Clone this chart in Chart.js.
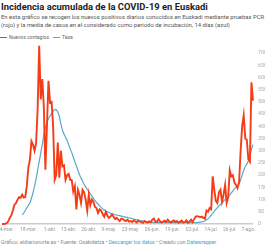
<!DOCTYPE html>
<html>
<head>
<meta charset="utf-8">
<script src="https://cdn.jsdelivr.net/npm/chart.js@4"></script>
<style>
  html, body { margin: 0; padding: 0; background: #fff; overflow: hidden; }
  body { width: 265px; height: 250px; position: relative; font-family: Roboto, "Noto Sans", sans-serif; }
  #title { position: absolute; left: 1px; top: 1px; font-size: 9.4px; font-weight: 700; color: #222; white-space: nowrap; line-height: 12px; }
  #desc { position: absolute; left: 1px; top: 13px; font-size: 5.9px; color: #555; white-space: nowrap; line-height: 8.3px; }
  #legend { position: absolute; left: 0; top: 34px; font-size: 5px; color: #666; white-space: nowrap; line-height: 7px; }
  #legend span.sw { display: inline-block; width: 7px; height: 1.6px; vertical-align: middle; margin-right: 2px; }
  #legend span.item { margin-right: 4px; }
  #wrap { position: absolute; left: 0; top: 44px; width: 273px; height: 192px; }
  #footer { position: absolute; left: 1px; top: 239px; font-size: 5.2px; color: #888; white-space: nowrap; line-height: 7px; }
  #footer a { color: #3a9fd0; text-decoration: none; }
</style>
</head>
<body>
<div id="title">Incidencia acumulada de la COVID-19 en Euskadi</div>
<div id="desc">En esta gráfico se recogen los nuevos positivos diarios conocidos en Euskadi mediante pruebas PCR<br>(rojo) y la media de casos en el considerado como periodo de incubación, 14 días (azul)</div>
<div id="legend"></div>
<div id="wrap"><canvas id="chart"></canvas></div>
<div id="footer">Gráfico: eldiarionorte.es • Fuente: Osakidetza • <a>Descargar los datos</a> • Creado con <a>Datawrapper</a></div>
<script>
// day 0 = 1-mar. 2020, one value per day up to 10-ago.
const seriesNames = ["Nuevos contagios", "Tasa"];
const seriesColors = ["#f43c17", "#58a8c8"];

const nuevos = [
  0, 0, 1, 3, 10, 25, 35, 55, 78, 85,
  99, 110, 107, 120, 108, 110, 154, 230, 263, 339,
  325, 300, 330, 470, 730, 510, 593, 480, 222, 400,
  586, 497, 500, 400, 181, 200, 333, 190, 300, 236,
  240, 181, 200, 205, 181, 180, 133, 154, 60, 140,
  120, 86, 140, 130, 100, 55, 120, 78, 100, 90,
  70, 65, 45, 60, 55, 40, 30, 50, 35, 25,
  30, 40, 30, 20, 25, 18, 12, 22, 20, 15,
  12, 18, 10, 12, 8, 15, 10, 6, 14, 10,
  8, 5, 12, 9, 6, 11, 7, 18, 22, 10,
  8, 20, 12, 6, 10, 14, 8, 18, 10, 6,
  12, 15, 8, 12, 5, 10, 14, 6, 8, 15,
  5, 10, 18, 8, 20, 30, 32, 30, 28, 30,
  25, 22, 55, 50, 65, 60, 195, 140, 95, 86,
  130, 140, 92, 120, 160, 86, 110, 220, 195, 200,
  170, 160, 147, 170, 298, 400, 445, 350, 345, 265,
  255, 580, 505
];

const tasa = [
  null, null, null, null, null, null, null, null, null, null,
  null, null, null, 37, 45, 55, 66, 76, 86, 105,
  128, 155, 185, 220, 255, 290, 325, 365, 395, 415,
  432, 442, 452, 462, 468, 468, 458, 440, 410, 385,
  368, 355, 343, 325, 308, 292, 273, 255, 238, 220,
  203, 188, 175, 162, 152, 142, 133, 124, 114, 105,
  96, 88, 81, 74, 68, 62, 57, 53, 50, 47,
  44, 42, 40, 38, 37, 35, 34, 32, 31, 29,
  28, 27, 25, 24, 22, 20, 19, 17, 16, 14,
  13, 12, 11, 10, 9, 8, 7, 7, 6, 6,
  6, 6, 6, 6, 6, 6, 6, 6, 6, 6,
  6, 6, 6, 6, 6, 6, 6, 6, 6, 6,
  6, 6, 6, 6, 6, 6, 6, 7, 8, 9,
  10, 13, 17, 22, 28, 36, 44, 52, 60, 67,
  74, 80, 87, 94, 100, 106, 112, 119, 127, 136,
  144, 150, 155, 165, 180, 200, 220, 235, 245, 258,
  280, 305, 325
];

const xTickDays = [3, 17, 31, 43, 56, 69, 83, 97, 110, 123, 135, 147, 159];
const xTickLabels = ["4-mar.", "18-mar.", "1-abr.", "13-abr.", "26-abr.", "9-may.", "23-may.", "06-jun.", "19-jun.", "02-jul.", "14-jul.", "26-jul.", "7-ago."];
const yTicks = [0, 50, 100, 150, 200, 250, 300, 350, 400, 450, 500, 550, 600, 650, 700];

function toPoints(values) {
  return values.map((v, i) => ({x: i, y: v}));
}

function buildLegend() {
  const box = document.getElementById("legend");
  box.innerHTML = seriesNames.map((name, i) =>
    `<span class="item"><span class="sw" style="background:${seriesColors[i]}"></span>${name}</span>`
  ).join("");
}

buildLegend();

new Chart(document.getElementById("chart"), {
  type: "line",
  data: {
    datasets: [
      {
        label: seriesNames[0],
        data: toPoints(nuevos),
        borderColor: seriesColors[0],
        borderWidth: 1.9,
        pointRadius: 0,
        tension: 0,
        clip: false
      },
      {
        label: seriesNames[1],
        data: toPoints(tasa),
        borderColor: seriesColors[1],
        borderWidth: 1.2,
        pointRadius: 0,
        tension: 0.3,
        clip: false
      }
    ]
  },
  options: {
    animation: false,
    responsive: true,
    maintainAspectRatio: false,
    devicePixelRatio: 1,
    layout: {padding: {left: 2, top: 9, right: 0, bottom: 0}},
    plugins: {legend: {display: false}, tooltip: {enabled: false}},
    scales: {
      x: {
        type: "linear",
        min: 0,
        max: nuevos.length - 1,
        grid: {display: false, drawTicks: false},
        border: {display: false},
        afterBuildTicks: (scale) => { scale.ticks = xTickDays.map((v) => ({value: v})); },
        afterFit: (scale) => { scale.height = 12; scale.paddingLeft = 0; scale.paddingRight = 0; },
        ticks: {
          autoSkip: false,
          maxRotation: 0,
          padding: 3,
          color: "#999",
          font: {family: "Roboto", size: 5},
          callback: (value) => xTickLabels[xTickDays.indexOf(value)] || ""
        }
      },
      y: {
        position: "right",
        min: 0,
        max: 700,
        border: {display: false},
        grid: {
          drawTicks: false,
          color: (ctx) => ctx.tick && ctx.tick.value === 0 ? "#cccccc" : "rgba(0,0,0,0)",
          lineWidth: 1.6
        },
        afterBuildTicks: (scale) => { scale.ticks = yTicks.map((v) => ({value: v})); },
        afterFit: (scale) => { scale.width = 20; scale.paddingTop = 0; scale.paddingBottom = 0; },
        ticks: {
          autoSkip: false,
          padding: 5,
          color: "#aaa",
          font: {family: "Roboto", size: 5.3}
        }
      }
    }
  }
});
</script>
</body>
</html>
